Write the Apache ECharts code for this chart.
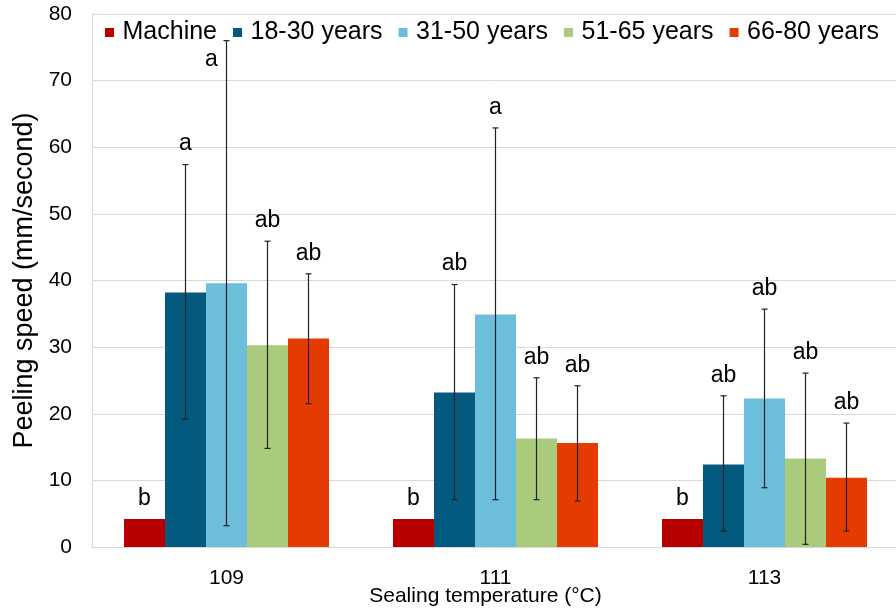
<!DOCTYPE html>
<html>
<head>
<meta charset="utf-8">
<script src="https://cdn.jsdelivr.net/npm/echarts@6/dist/echarts.min.js"></script>
<style>
  html, body { margin: 0; padding: 0; background: #fff; }
  #chart { width: 896px; height: 616px; }
</style>
</head>
<body>
<div id="chart"></div>
<script>
// sealing temperatures
const categories = ["109", "111", "113"];
const seriesNames = ["Machine", "18-30 years", "31-50 years", "51-65 years", "66-80 years"];

// mean peeling speed (mm/second)
const machine = [4.2, 4.2, 4.2];
const age1830 = [38.2, 23.2, 12.4];
const age3150 = [39.6, 34.9, 22.3];
const age5165 = [30.3, 16.3, 13.3];
const age6680 = [31.3, 15.6, 10.4];

// error bar ends (low / high)
const err1830Low = [19.2, 7.1, 2.4];
const err1830High = [57.4, 39.4, 22.7];
const err3150Low = [3.2, 7.1, 8.9];
const err3150High = [76.0, 62.9, 35.7];
const err5165Low = [14.8, 7.1, 0.4];
const err5165High = [45.9, 25.4, 26.1];
const err6680Low = [21.5, 6.9, 2.4];
const err6680High = [41.0, 24.2, 18.6];

// significance letters
const letterMachine = ["b", "b", "b"];
const letter1830 = ["a", "ab", "ab"];
const letter3150 = ["a", "a", "ab"];
const letter5165 = ["ab", "ab", "ab"];
const letter6680 = ["ab", "ab", "ab"];

const colors = ["#B80000", "#035A7E", "#6CBEDB", "#ABCB7C", "#E43C00"];
const font = "Liberation Sans";
const barW = 41;

let values = [machine, age1830, age3150, age5165, age6680];
let lows = [null, err1830Low, err3150Low, err5165Low, err6680Low];
let highs = [null, err1830High, err3150High, err5165High, err6680High];
let letters = [letterMachine, letter1830, letter3150, letter5165, letter6680];

// one item per bar: [category index, series index, low, high]
let marks = [];
let markLetters = [];
for (let s = 0; s < 5; s++) {
  for (let c = 0; c < categories.length; c++) {
    let low = lows[s] ? lows[s][c] : values[s][c];
    let high = highs[s] ? highs[s][c] : values[s][c];
    marks.push([c, s, low, high]);
    markLetters.push(letters[s][c]);
  }
}

let myChart = echarts.init(document.getElementById("chart"), null, { renderer: "canvas" });

let barSeries = seriesNames.map(function (name, i) {
  return {
    name: name,
    type: "bar",
    data: values[i],
    barWidth: barW,
    barGap: "0%",
    itemStyle: { color: colors[i] }
  };
});

let option = {
  backgroundColor: "#fff",
  animation: false,
  color: colors,
  textStyle: { fontFamily: font },
  grid: { left: 92, top: 14, width: 807, height: 533, outerBoundsMode: "none", containLabel: false },
  legend: {
    data: seriesNames,
    left: 100,
    top: 15,
    icon: "path://M0,0h10v10h-10z",
    itemWidth: 16,
    itemHeight: 9,
    itemGap: 16,
    textStyle: { fontSize: 25, color: "#000", fontFamily: font }
  },
  xAxis: {
    type: "category",
    data: categories,
    name: "Sealing temperature (°C)",
    nameLocation: "middle",
    nameGap: 39,
    nameMoveOverlap: false,
    nameTextStyle: { fontSize: 21, color: "#000", fontFamily: font, padding: [0, 20, 0, 0] },
    axisLine: { lineStyle: { color: "#D9D9D9", width: 1 } },
    axisTick: { show: false },
    axisLabel: { fontSize: 21, color: "#000", margin: 21, fontFamily: font }
  },
  yAxis: {
    type: "value",
    min: 0,
    max: 80,
    interval: 10,
    name: "Peeling speed (mm/second)",
    nameLocation: "middle",
    nameGap: 54,
    nameTextStyle: { fontSize: 27, color: "#000", fontFamily: font },
    axisLine: { show: true, lineStyle: { color: "#D9D9D9", width: 1 } },
    axisTick: { show: false },
    axisLabel: { fontSize: 21, color: "#000", margin: 20, fontFamily: font },
    splitLine: { lineStyle: { color: "#D9D9D9", width: 1 } }
  },
  series: barSeries.concat([
    {
      type: "custom",
      z: 5,
      silent: true,
      data: marks,
      encode: { x: 0, y: 3 },
      renderItem: function (params, api) {
        let c = api.value(0);
        let s = api.value(1);
        let x = api.coord([c, 0])[0] + (s - 2) * barW;
        let yLow = api.coord([c, api.value(2)])[1];
        let yHigh = api.coord([c, api.value(3)])[1];
        let children = [];
        let lineStyle = { stroke: "#222", lineWidth: 1.2 };
        if (s > 0) {
          children.push(
            { type: "line", shape: { x1: x, y1: yLow, x2: x, y2: yHigh }, style: lineStyle },
            { type: "line", shape: { x1: x - 3, y1: yHigh, x2: x + 3, y2: yHigh }, style: lineStyle },
            { type: "line", shape: { x1: x - 3, y1: yLow, x2: x + 3, y2: yLow }, style: lineStyle }
          );
        }
        // letter above the cap; tucked below-left of the cap when it would hit the legend
        let tx = x;
        let ty = yHigh - 9;
        if (ty - 24 < 48) {
          tx = x - 15;
          ty = yHigh + 31;
        }
        children.push({
          type: "text",
          style: {
            text: markLetters[params.dataIndex],
            x: tx,
            y: ty,
            align: "center",
            verticalAlign: "bottom",
            fontSize: 23,
            fontFamily: font,
            fill: "#000"
          }
        });
        return { type: "group", children: children };
      }
    }
  ])
};

myChart.setOption(option);
window.addEventListener("resize", myChart.resize);
</script>
</body>
</html>
